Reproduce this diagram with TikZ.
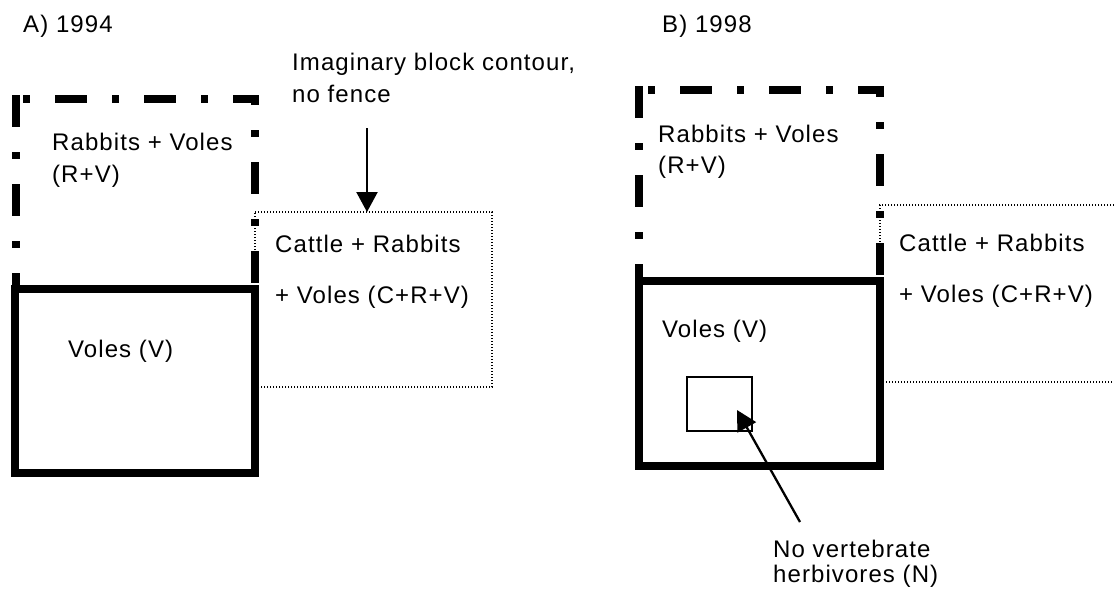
\documentclass[tikz,border=0pt]{standalone}
\usepackage{fontspec}
\setmainfont{Liberation Sans}[LetterSpace=4.5]
\usetikzlibrary{arrows.meta}
\tikzset{
  lbl/.style={anchor=base west, inner sep=0pt, font=\fontsize{24}{29}\selectfont},
  fencebox/.style={line width=8pt},
  dashfence/.style={line width=8pt, dash pattern=on 32pt off 25pt on 7pt off 25pt},
  nofence/.style={line width=1.6pt, dash pattern=on 1.2pt off 1.8pt},
  pointer/.style={line width=2.3pt, -{Triangle[width=21pt,length=20pt]}},
  plotbox/.style={draw, line width=2.3pt, inner sep=0pt}
}
\begin{document}
\begin{tikzpicture}[x=1pt,y=-1pt]
\useasboundingbox[fill=white] (0,0) rectangle (1114,597);

% ---------- Panel A (1994) ----------
\draw[nofence] (255,212) -- (492,212) -- (492,387) -- (255,387) -- cycle;
\draw[dashfence] (16,95) -- (16,289);
\draw[dashfence, dash phase=46pt] (12,99) -- (259,99);
\draw[dashfence, dash phase=22pt] (255,95) -- (255,289);
\draw[fencebox] (15,289) rectangle (255,473);

\coordinate (a0) at (367,128);
\coordinate (a1) at (367,212);
\draw[pointer] (a0) -- (a1);

\node[lbl] (tA) at (23,32) {A) 1994};
\node[lbl] (imA1) at (292,70) {Imaginary block contour,};
\node[lbl] (imA2) at (292,102) {no fence};
\node[lbl] (rvA1) at (52,150) {Rabbits + Voles};
\node[lbl] (rvA2) at (52,182) {(R+V)};
\node[lbl] (crvA1) at (275,252) {Cattle + Rabbits};
\node[lbl] (crvA2) at (275,303) {+ Voles (C+R+V)};
\node[lbl] (vA) at (68,357) {Voles (V)};

% ---------- Panel B (1998) ----------
\draw[nofence] (1120,205) -- (880,205) -- (880,382) -- (1120,382);
\draw[dashfence] (639,86) -- (639,281);
\draw[dashfence, dash phase=44pt] (635,90) -- (884,90);
\draw[dashfence, dash phase=21pt] (880,86) -- (880,281);
\draw[fencebox] (639,281) rectangle (880,466);

\node[plotbox, minimum width=65pt, minimum height=54pt] (nvh) at (719.5,404) {};
\coordinate (b0) at (800,522);
\coordinate (b1) at (737,410);
\draw[pointer] (b0) -- (b1);

\node[lbl] (tB) at (662,32) {B) 1998};
\node[lbl] (rvB1) at (658,142) {Rabbits + Voles};
\node[lbl] (rvB2) at (658,173) {(R+V)};
\node[lbl] (crvB1) at (899,251) {Cattle + Rabbits};
\node[lbl] (crvB2) at (899,302) {+ Voles (C+R+V)};
\node[lbl] (vB) at (662,337) {Voles (V)};
\node[lbl] (nB1) at (773,557) {No vertebrate};
\node[lbl] (nB2) at (773,582) {herbivores (N)};
\end{tikzpicture}
\end{document}
